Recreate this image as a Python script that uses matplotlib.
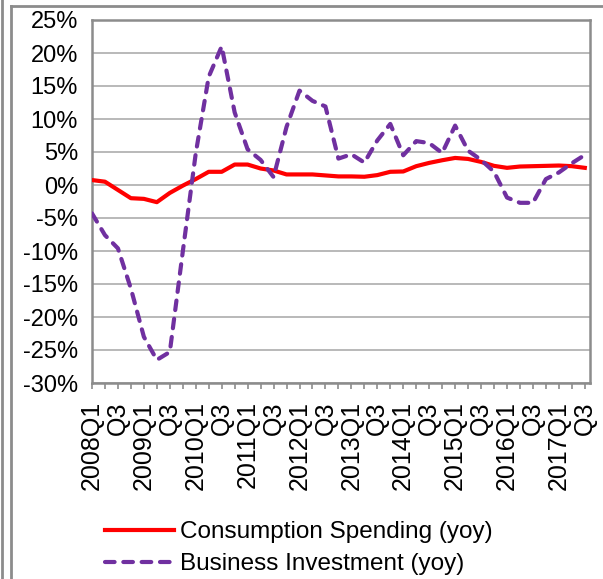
import matplotlib.pyplot as plt
from matplotlib.lines import Line2D

quarters = ['2008Q1', 'Q3', '2009Q1', 'Q3', '2010Q1', 'Q3', '2011Q1', 'Q3', '2012Q1', 'Q3',
            '2013Q1', 'Q3', '2014Q1', 'Q3', '2015Q1', 'Q3', '2016Q1', 'Q3', '2017Q1', 'Q3']

consumption = [0.75, 0.5, -0.75, -2.0, -2.1, -2.6, -1.2, -0.1, 0.9, 2.0,
               2.0, 3.1, 3.1, 2.5, 2.2, 1.6, 1.6, 1.6, 1.45, 1.3,
               1.3, 1.25, 1.5, 2.0, 2.05, 2.85, 3.35, 3.75, 4.1, 3.95,
               3.5, 2.9, 2.6, 2.8, 2.85, 2.9, 2.95, 2.85, 2.6]

investment = [-4.3, -7.6, -9.6, -15.7, -23.0, -26.5, -25.3, -10.1, 4.8, 16.4,
              21.0, 11.0, 5.4, 3.8, 1.2, 8.8, 14.3, 12.75, 11.9, 4.0,
              4.65, 3.4, 6.75, 9.25, 4.5, 6.65, 6.35, 4.85, 9.0, 5.2,
              3.8, 2.0, -1.9, -2.7, -2.7, 0.9, 1.9, 3.3, 4.55]

y_ticks = [25, 20, 15, 10, 5, 0, -5, -10, -15, -20, -25, -30]

plt.rcParams['font.family'] = ['Liberation Sans', 'DejaVu Sans']

W, H = 603, 579
fig = plt.figure(figsize=(W / 100, H / 100), dpi=100)
ax = fig.add_axes([92 / W, 196 / H, 498 / W, 363 / H])

x = list(range(len(consumption)))
ax.plot(x, consumption, color='#FF0000', lw=3.0, label='Consumption Spending (yoy)', zorder=3)
ax.plot(x, investment, color='#7030A0', lw=3.0, ls=(0, (2.3, 2.1)), dash_capstyle='round',
        label='Business Investment (yoy)', zorder=3)

ax.set_ylim(-30, 25)
ax.set_xlim(0, 38.4)
ax.set_yticks(y_ticks)
ax.set_yticklabels([f'{v}%' for v in y_ticks])
ax.set_xticks(range(0, len(consumption), 2))
ax.set_xticklabels(quarters, rotation=90)
ax.set_xticks(range(len(consumption)), minor=True)

ax.grid(axis='y', color='#b3b3b3', lw=1.3)
ax.set_axisbelow(True)
for s in ax.spines.values():
    s.set_color('#8c8c8c')
    s.set_linewidth(1.8)

ax.tick_params(axis='y', length=0, pad=10, labelsize=17)
ax.tick_params(axis='x', which='both', direction='out', length=4, width=1.2,
               color='#8c8c8c', pad=9, labelsize=18)

# outer frame lines
for xs, ys in [([2 / W, 2 / W], [0, 1]), ([11 / W, 11 / W], [0, 1 - 6 / H]),
               ([11 / W, 1], [1 - 6 / H, 1 - 6 / H])]:
    fig.add_artist(Line2D(xs, ys, color='#8c8c8c', lw=2))

fig.legend(loc='upper left', bbox_to_anchor=(105 / W, 1 - 521 / H), frameon=False,
           fontsize=17.5, handlelength=2.85, handletextpad=0.25, labelspacing=0.42,
           borderpad=0, borderaxespad=0)

fig.savefig('out.png', dpi=100)
